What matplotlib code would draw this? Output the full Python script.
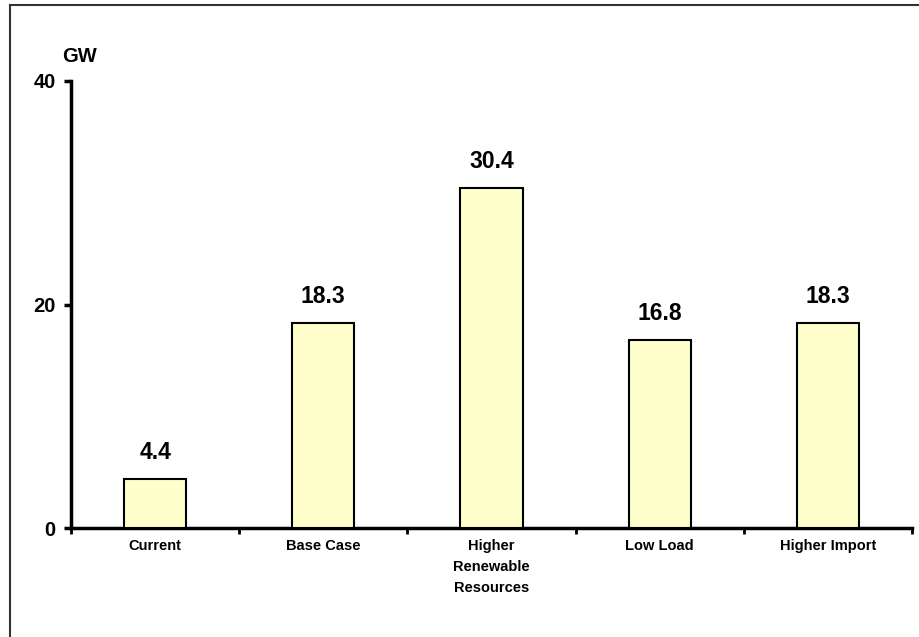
import matplotlib
matplotlib.use("Agg")
import matplotlib.pyplot as plt
from matplotlib.lines import Line2D

categories = ["Current", "Base Case", "Higher\nRenewable\nResources", "Low Load", "Higher Import"]
values = [4.4, 18.3, 30.4, 16.8, 18.3]
value_labels = ["4.4", "18.3", "30.4", "16.8", "18.3"]
yticks = [0, 20, 40]
unit_label = "GW"

plt.rcParams['font.family'] = ['Liberation Sans', 'DejaVu Sans']

fig = plt.figure(figsize=(9.2, 6.37), dpi=100)
ax = fig.add_axes([71/920, 1-528/637, (912-71)/920, (528-81)/637])

x = list(range(len(categories)))
ax.bar(x, values, width=0.37, color="#FFFFCC", edgecolor="black", linewidth=1.5, zorder=3)

for xi, v, lab in zip(x, values, value_labels):
    ax.annotate(lab, (xi, v), xytext=(0, 11), textcoords="offset points",
                ha="center", va="bottom", fontsize=16.5, fontweight="bold")

ax.set_xlim(-0.5, len(categories) - 0.5)
ax.set_ylim(0, 40)
ax.set_yticks(yticks)
ax.set_yticklabels([str(t) for t in yticks], fontsize=14.5, fontweight="bold")
ax.set_xticks([i + 0.5 for i in range(-1, len(categories))], minor=False)
ax.set_xticklabels([])
ax.set_xticks(x, minor=True)
ax.set_xticklabels(categories, minor=True, fontsize=10.5, fontweight="bold", linespacing=1.65)
ax.tick_params(axis="x", which="minor", length=0, pad=8)
ax.tick_params(axis="x", which="major", length=4, width=2, direction="out")
ax.tick_params(axis="y", length=5, width=2.5, direction="out", pad=6)

for s in ["top", "right"]:
    ax.spines[s].set_visible(False)
for s in ["left", "bottom"]:
    ax.spines[s].set_linewidth(2.5)

ax.text(-0.0107, 1.033, unit_label, transform=ax.transAxes, ha="left", va="bottom",
        fontsize=14.5, fontweight="bold")

# figure frame lines (top and left)
fig.add_artist(Line2D([10/920, 1.0], [1-5/637, 1-5/637], color="#333333", linewidth=1.5, transform=fig.transFigure))
fig.add_artist(Line2D([10/920, 10/920], [0, 1-5/637], color="#333333", linewidth=1.5, transform=fig.transFigure))

fig.savefig("out.png", dpi=100, facecolor="white")
